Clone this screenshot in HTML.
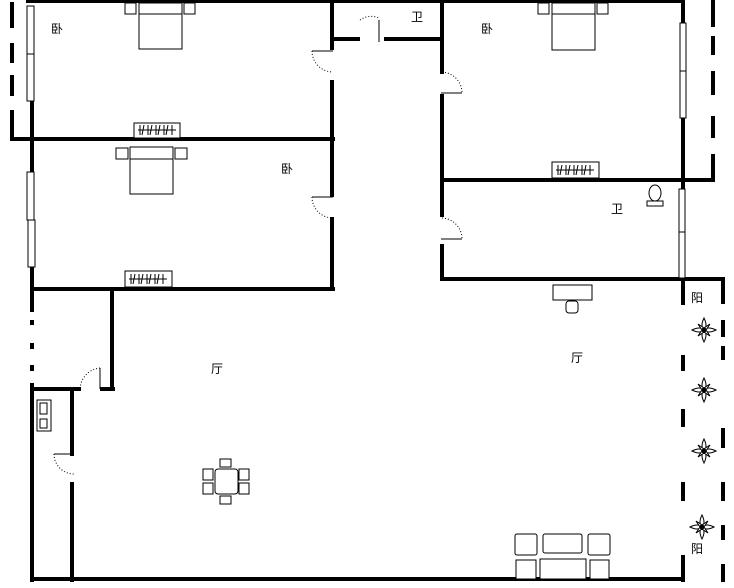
<!DOCTYPE html>
<html><head><meta charset="utf-8"><style>
html,body{margin:0;padding:0;background:#fff;}
svg{display:block;}
text{font-family:"Liberation Sans","Noto Sans CJK SC",sans-serif;font-size:12px;fill:#000;}
</style></head><body>
<svg width="734" height="588" viewBox="0 0 734 588" xmlns="http://www.w3.org/2000/svg">
<defs>
<g id="fl" stroke="#000" stroke-width="1" fill="#fff">
<path d="M0,-12 Q4,-4 0,0 Q-4,-4 0,-12Z M0,12 Q4,4 0,0 Q-4,4 0,12Z M-12,0 Q-4,4 0,0 Q-4,-4 -12,0Z M12,0 Q4,4 0,0 Q4,-4 12,0Z"/>
<path d="M-6,-6 L0,-2 L-2,0Z M6,-6 L0,-2 L2,0Z M-6,6 L0,2 L-2,0Z M6,6 L0,2 L2,0Z"/>
<circle r="2" fill="#000"/>
</g>
<g id="wd" stroke="#000" stroke-width="1" fill="none">
<path d="M4,8 H42 M6,3 V13 M10,3 L8,13 M14,3 V13 M18,3 L16,13 M22,3 V13 M26,3 L24,13 M30,3 V13 M34,3 L32,13 M38,3 V13"/>
</g>
</defs>
<g stroke="#000" stroke-width="4" fill="none" stroke-linecap="square">
<line x1="28" y1="1" x2="683" y2="1"/>
<line x1="12" y1="4" x2="12" y2="26"/>
<line x1="12" y1="45" x2="12" y2="61"/>
<line x1="12" y1="77" x2="12" y2="94"/>
<line x1="12" y1="112" x2="12" y2="139"/>
<line x1="32" y1="100" x2="32" y2="172"/>
<line x1="32" y1="267" x2="32" y2="310"/>
<line x1="12" y1="139" x2="333" y2="139"/>
<line x1="332" y1="1" x2="332" y2="48"/>
<line x1="332" y1="82" x2="332" y2="195"/>
<line x1="332" y1="219" x2="332" y2="289"/>
<line x1="32" y1="289" x2="333" y2="289"/>
<line x1="333" y1="39" x2="358" y2="39"/>
<line x1="386" y1="39" x2="442" y2="39"/>
<line x1="442" y1="1" x2="442" y2="72"/>
<line x1="442" y1="96" x2="442" y2="215"/>
<line x1="442" y1="246" x2="442" y2="279"/>
<line x1="442" y1="180" x2="713" y2="180"/>
<line x1="442" y1="279" x2="723" y2="279"/>
<line x1="683" y1="1" x2="683" y2="22"/>
<line x1="683" y1="118" x2="683" y2="188"/>
<line x1="723" y1="279" x2="723" y2="302"/>
<line x1="713" y1="1" x2="713" y2="25"/>
<line x1="713" y1="38" x2="713" y2="53"/>
<line x1="713" y1="73" x2="713" y2="93"/>
<line x1="713" y1="118" x2="713" y2="136"/>
<line x1="713" y1="156" x2="713" y2="180"/>
<line x1="683" y1="279" x2="683" y2="303"/>
<line x1="683" y1="357" x2="683" y2="369"/>
<line x1="683" y1="411" x2="683" y2="425"/>
<line x1="683" y1="484" x2="683" y2="499"/>
<line x1="683" y1="557" x2="683" y2="580"/>
<line x1="723" y1="322" x2="723" y2="335"/>
<line x1="723" y1="348" x2="723" y2="358"/>
<line x1="723" y1="430" x2="723" y2="446"/>
<line x1="723" y1="484" x2="723" y2="499"/>
<line x1="723" y1="527" x2="723" y2="538"/>
<line x1="723" y1="566" x2="723" y2="580"/>
<line x1="112" y1="289" x2="112" y2="389"/>
<line x1="102" y1="389" x2="113" y2="389"/>
<line x1="32" y1="322" x2="32" y2="323"/>
<line x1="32" y1="345" x2="32" y2="347"/>
<line x1="32" y1="367" x2="32" y2="369"/>
<line x1="32" y1="385" x2="32" y2="580"/>
<line x1="32" y1="389" x2="79" y2="389"/>
<line x1="72" y1="389" x2="72" y2="454"/>
<line x1="72" y1="484" x2="72" y2="580"/>
<line x1="32" y1="579" x2="683" y2="579"/>
</g>
<g stroke="#000" stroke-width="1" fill="#fff">
<rect x="27" y="6" width="7" height="48"/><rect x="27" y="54" width="7" height="47"/>
<rect x="27" y="172" width="7" height="48"/><rect x="28" y="220" width="7" height="47"/>
<rect x="680" y="23" width="6" height="48"/><rect x="680" y="71" width="6" height="47"/>
<rect x="679" y="189" width="6" height="43"/><rect x="679" y="232" width="6" height="46"/>
<rect x="125" y="3" width="11" height="11"/><rect x="184" y="3" width="11" height="11"/>
<rect x="139" y="3" width="43" height="46"/><line x1="139" y1="14" x2="182" y2="14"/>
<rect x="116" y="148" width="12" height="11"/><rect x="175" y="148" width="12" height="11"/>
<rect x="130" y="147" width="43" height="47"/><line x1="130" y1="159" x2="173" y2="159"/>
<rect x="538" y="3" width="11" height="11"/><rect x="597" y="3" width="11" height="11"/>
<rect x="552" y="3" width="43" height="47"/><line x1="552" y1="14" x2="595" y2="14"/>
<rect x="134" y="123" width="46" height="15"/><rect x="125" y="271" width="47" height="16"/>
<rect x="552" y="162" width="47" height="16"/>
<rect x="553" y="285" width="39" height="15"/><rect x="566" y="301" width="12" height="12" rx="3"/>
<ellipse cx="655" cy="193" rx="6" ry="8"/><rect x="647" y="201" width="16" height="5"/>
<rect x="37" y="400" width="14" height="31"/><rect x="40" y="403" width="7" height="11"/><rect x="40" y="419" width="7" height="9"/>
<rect x="215" y="469" width="23" height="25" rx="3"/>
<rect x="220" y="459" width="11" height="8"/><rect x="220" y="496" width="11" height="8"/>
<rect x="203" y="469" width="10" height="11"/><rect x="203" y="483" width="10" height="11"/>
<rect x="239" y="469" width="10" height="11"/><rect x="239" y="483" width="10" height="11"/>
<rect x="515" y="534" width="22" height="21" rx="2"/><rect x="543" y="534" width="39" height="19" rx="2"/>
<rect x="588" y="534" width="22" height="21" rx="2"/>
<rect x="516" y="560" width="20" height="19"/><rect x="540" y="559" width="46" height="20"/><rect x="590" y="560" width="19" height="19"/>
</g>
<use href="#wd" x="134" y="122"/><use href="#wd" x="125" y="271"/><use href="#wd" x="552" y="162"/>
<g stroke="#000" stroke-width="1" fill="none">
<path d="M312,51 H333 M379,20 V42 M312,197 H333 M441,93 H462 M441,239 H462 M54,454 H72 M100,389 V368"/>
</g>
<g stroke="#000" stroke-width="1" fill="none" stroke-dasharray="1,2">
<path d="M312,51 A21,21 0 0 0 333,72"/>
<path d="M312,197 A21,21 0 0 0 333,218"/>
<path d="M442,72 A21,21 0 0 1 462,93"/>
<path d="M442,218 A21,21 0 0 1 462,239"/>
<path d="M360,20 A19,19 0 0 1 379,18"/>
<path d="M54,454 A20,20 0 0 0 74,474"/>
<path d="M100,368 A22,22 0 0 0 80,390"/>
</g>
<use href="#fl" x="704" y="330"/>
<use href="#fl" x="704" y="390"/>
<use href="#fl" x="704" y="451"/>
<use href="#fl" x="702" y="527"/>
<text x="51" y="33">卧</text>
<text x="281" y="173">卧</text>
<text x="481" y="33">卧</text>
<text x="411" y="21">卫</text>
<text x="611" y="213">卫</text>
<text x="211" y="373">厅</text>
<text x="571" y="362">厅</text>
<text x="691" y="302">阳</text>
<text x="691" y="553">阳</text>
</svg>
</body></html>
